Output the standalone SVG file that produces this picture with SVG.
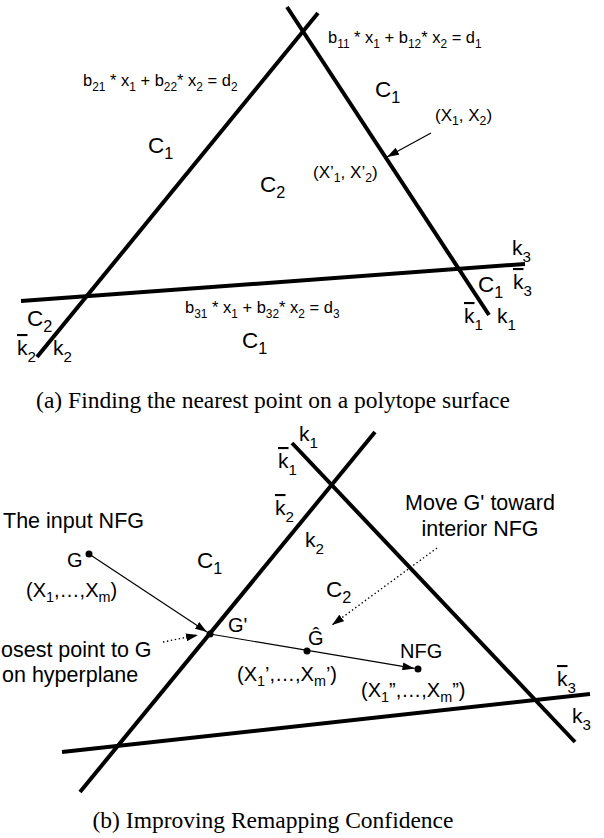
<svg xmlns="http://www.w3.org/2000/svg" width="604" height="838" viewBox="0 0 604 838">
<style>
text{font-family:"Liberation Sans",Arial,sans-serif;fill:#000}
.eq{font-size:16.5px}
.c{font-size:22.5px}
.k{font-size:21px}
.pt{font-size:17px}
.lb{font-size:20px}
.ds{font-size:21.5px}
.cap{font-family:"Liberation Serif","Times New Roman",serif;font-size:23.5px;text-anchor:middle}
.s{font-size:0.72em}
.ov{text-decoration:overline}
.thick{stroke:#000;stroke-width:4;fill:none}
.thin{stroke:#000;stroke-width:1.2;fill:none;marker-end:url(#ah)}
.dot{stroke:#000;stroke-width:1.4;fill:none;stroke-dasharray:1.4 2.6;marker-end:url(#ah)}
</style>
<defs>
<marker id="ah" markerUnits="userSpaceOnUse" markerWidth="12" markerHeight="8" refX="12" refY="4" orient="auto">
<path d="M0,0 L12,4 L0,8 z" fill="#000"/>
</marker>
</defs>

<!-- Part (a) -->
<g id="a-lines">
<line id="a-h1" class="thick" x1="287" y1="7" x2="489" y2="315"/>
<line id="a-h2" class="thick" x1="318" y1="13" x2="37" y2="357"/>
<line id="a-h3" class="thick" x1="21" y1="301" x2="525" y2="264"/>
</g>
<g id="a-connectors">
<line class="thin" x1="431" y1="133" x2="387" y2="157"/>
</g>
<g id="a-labels">
<text class="eq" x="328" y="43">b<tspan class="s" dy="4.5">11</tspan><tspan dy="-4.5"> * x</tspan><tspan class="s" dy="4.5">1</tspan><tspan dy="-4.5"> + b</tspan><tspan class="s" dy="4.5">12</tspan><tspan dy="-4.5">* x</tspan><tspan class="s" dy="4.5">2</tspan><tspan dy="-4.5"> = d</tspan><tspan class="s" dy="4.5">1</tspan></text>
<text class="eq" x="83" y="86">b<tspan class="s" dy="4.5">21</tspan><tspan dy="-4.5"> * x</tspan><tspan class="s" dy="4.5">1</tspan><tspan dy="-4.5"> + b</tspan><tspan class="s" dy="4.5">22</tspan><tspan dy="-4.5">* x</tspan><tspan class="s" dy="4.5">2</tspan><tspan dy="-4.5"> = d</tspan><tspan class="s" dy="4.5">2</tspan></text>
<text class="eq" x="185" y="313">b<tspan class="s" dy="4.5">31</tspan><tspan dy="-4.5"> * x</tspan><tspan class="s" dy="4.5">1</tspan><tspan dy="-4.5"> + b</tspan><tspan class="s" dy="4.5">32</tspan><tspan dy="-4.5">* x</tspan><tspan class="s" dy="4.5">2</tspan><tspan dy="-4.5"> = d</tspan><tspan class="s" dy="4.5">3</tspan></text>

<text class="c" x="375" y="97">C<tspan class="s" dy="6">1</tspan></text>
<text class="c" x="148" y="153">C<tspan class="s" dy="6">1</tspan></text>
<text class="c" x="260" y="192">C<tspan class="s" dy="6">2</tspan></text>
<text class="c" x="27" y="326">C<tspan class="s" dy="6">2</tspan></text>
<text class="c" x="242" y="348">C<tspan class="s" dy="6">1</tspan></text>
<text class="c" x="478" y="292">C<tspan class="s" dy="6">1</tspan></text>

<text class="pt" x="435" y="121">(X<tspan class="s" dy="4">1</tspan><tspan dy="-4">, X</tspan><tspan class="s" dy="4">2</tspan><tspan dy="-4">)</tspan></text>
<text class="pt" x="313" y="178">(X’<tspan class="s" dy="4">1</tspan><tspan dy="-4">, X’</tspan><tspan class="s" dy="4">2</tspan><tspan dy="-4">)</tspan></text>

<text class="k" x="17" y="355"><tspan class="ov">k</tspan><tspan class="s" dy="6.5">2</tspan></text>
<text class="k" x="53" y="355">k<tspan class="s" dy="6.5">2</tspan></text>
<text class="k" x="512" y="255">k<tspan class="s" dy="6.5">3</tspan></text>
<text class="k" x="513" y="289"><tspan class="ov">k</tspan><tspan class="s" dy="6.5">3</tspan></text>
<text class="k" x="464" y="323"><tspan class="ov">k</tspan><tspan class="s" dy="6.5">1</tspan></text>
<text class="k" x="497" y="323">k<tspan class="s" dy="6.5">1</tspan></text>

<text class="cap" x="273" y="408">(a) Finding the nearest point on a polytope surface</text>
</g>

<!-- Part (b) -->
<g id="b-lines">
<line id="b-h1" class="thick" x1="292" y1="443" x2="575" y2="742"/>
<line id="b-h2" class="thick" x1="375" y1="432" x2="80" y2="792"/>
<line id="b-h3" class="thick" x1="62" y1="752" x2="590" y2="694"/>
</g>
<g id="b-connectors">
<line class="thin" x1="89" y1="554" x2="207" y2="632"/>
<line class="thin" x1="210" y1="634" x2="414.5" y2="668.4"/>
<line class="dot" x1="163" y1="642" x2="198" y2="635"/>
<line class="dot" x1="437" y1="548" x2="332" y2="625"/>
</g>
<g id="b-points">
<circle id="pt-G" cx="89" cy="554" r="3.5" fill="#000"/>
<circle id="pt-Gp" cx="210" cy="634" r="3.5" fill="#000"/>
<circle id="pt-Ghat" cx="307" cy="651" r="3.5" fill="#000"/>
<circle id="pt-NFG" cx="418" cy="669" r="3.5" fill="#000"/>
</g>
<g id="b-labels">
<text class="k" x="299" y="441">k<tspan class="s" dy="6.5">1</tspan></text>
<text class="k" x="278" y="468"><tspan class="ov">k</tspan><tspan class="s" dy="6.5">1</tspan></text>
<text class="k" x="275" y="515"><tspan class="ov">k</tspan><tspan class="s" dy="6.5">2</tspan></text>
<text class="k" x="305" y="547">k<tspan class="s" dy="6.5">2</tspan></text>
<text class="k" x="557" y="686"><tspan class="ov">k</tspan><tspan class="s" dy="6.5">3</tspan></text>
<text class="k" x="572" y="723">k<tspan class="s" dy="6.5">3</tspan></text>

<text class="c" x="197" y="568">C<tspan class="s" dy="6">1</tspan></text>
<text class="c" x="326" y="597">C<tspan class="s" dy="6">2</tspan></text>

<text class="ds" x="3" y="528">The input NFG</text>
<text class="ds" x="1" y="657">osest point to G</text>
<text class="ds" x="2" y="682">on hyperplane</text>
<text class="ds" x="480" y="510" text-anchor="middle">Move G' toward</text>
<text class="ds" x="480" y="536" text-anchor="middle">interior NFG</text>

<text class="lb" x="67" y="567">G</text>
<text class="lb" x="26" y="597">(X<tspan class="s" dy="5">1</tspan><tspan dy="-5">,…,X</tspan><tspan class="s" dy="5">m</tspan><tspan dy="-5">)</tspan></text>
<text class="lb" x="228" y="632">G'</text>
<text class="lb" x="308" y="645">Ĝ</text>
<text class="lb" x="400" y="658">NFG</text>
<text class="lb" x="237" y="681">(X<tspan class="s" dy="5">1</tspan><tspan dy="-5">’,…,X</tspan><tspan class="s" dy="5">m</tspan><tspan dy="-5">’)</tspan></text>
<text class="lb" x="361" y="697">(X<tspan class="s" dy="5">1</tspan><tspan dy="-5">”,…,X</tspan><tspan class="s" dy="5">m</tspan><tspan dy="-5">”)</tspan></text>

<text class="cap" x="273" y="828">(b) Improving Remapping Confidence</text>
</g>
</svg>
